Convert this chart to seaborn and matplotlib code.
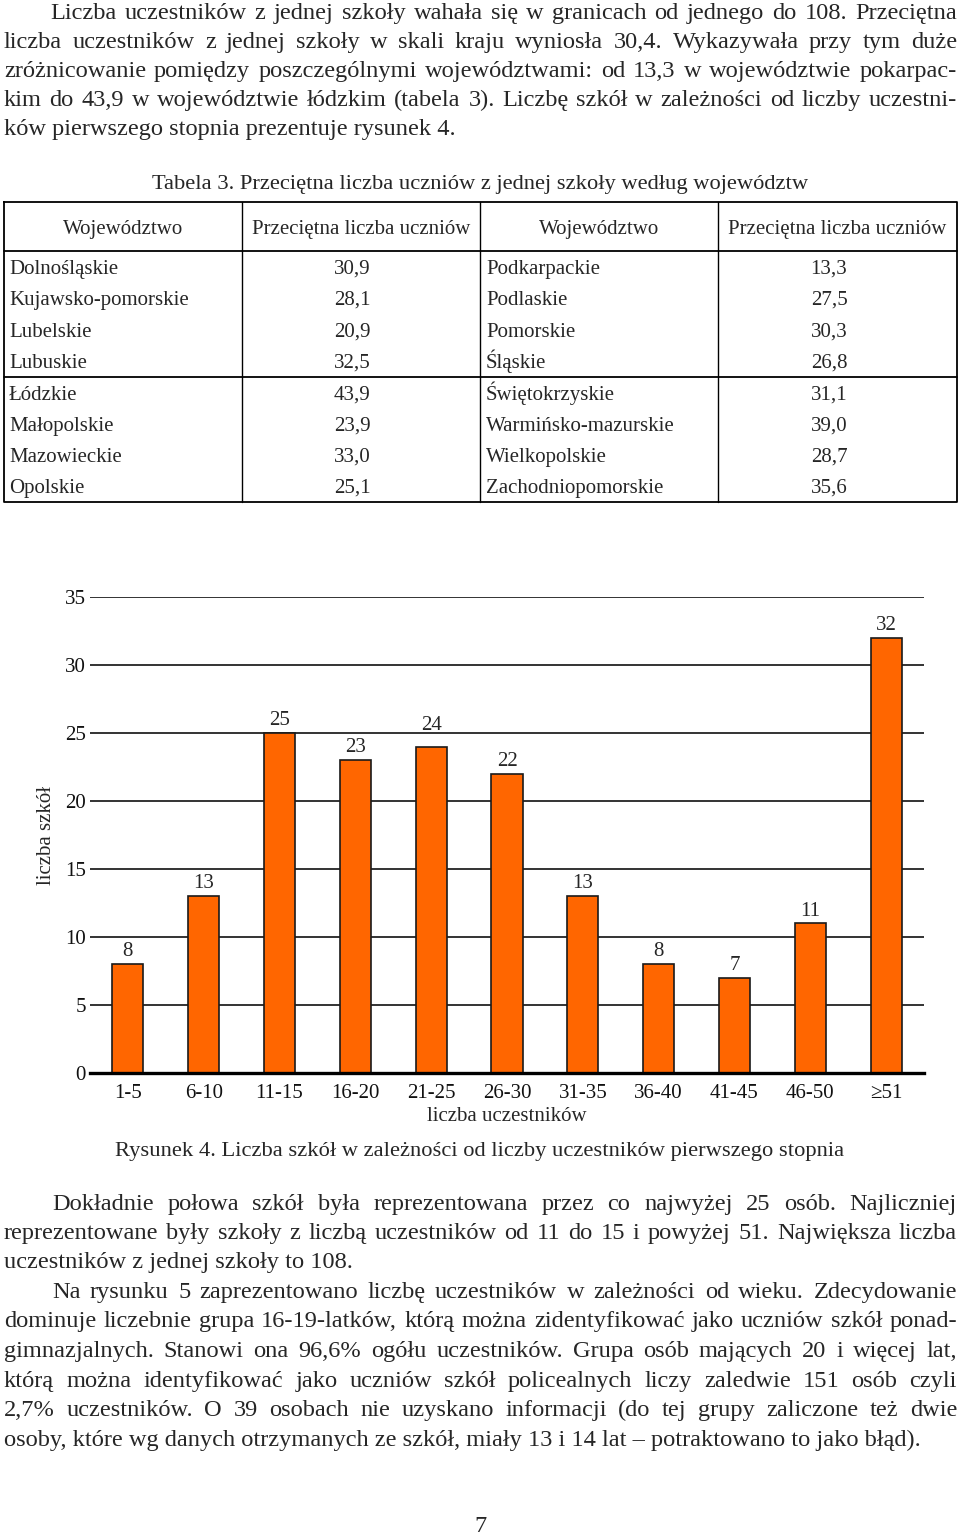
import matplotlib
matplotlib.use("Agg")
import matplotlib.pyplot as plt
import seaborn as sns
import pandas as pd

# Rysunek 4 - liczba szkol wg liczby uczestnikow
przedzialy = ["1-5", "6-10", "11-15", "16-20", "21-25", "26-30",
              "31-35", "36-40", "41-45", "46-50", "≥51"]
liczba_szkol = [8, 13, 25, 23, 24, 22, 13, 8, 7, 11, 32]

# Tabela 3
naglowki = ["Województwo", "Przeciętna liczba uczniów", "Województwo", "Przeciętna liczba uczniów"]
woj_lewe = ["Dolnośląskie", "Kujawsko-pomorskie", "Lubelskie", "Lubuskie",
            "Łódzkie", "Małopolskie", "Mazowieckie", "Opolskie"]
sr_lewe = ["30,9", "28,1", "20,9", "32,5", "43,9", "23,9", "33,0", "25,1"]
woj_prawe = ["Podkarpackie", "Podlaskie", "Pomorskie", "Śląskie",
             "Świętokrzyskie", "Warmińsko-mazurskie", "Wielkopolskie", "Zachodniopomorskie"]
sr_prawe = ["13,3", "27,5", "30,3", "26,8", "31,1", "39,0", "28,7", "35,6"]

akapit1 = [
    "Liczba uczestników z jednej szkoły wahała się w granicach od jednego do 108. Przeciętna",
    "liczba uczestników z jednej szkoły w skali kraju wyniosła 30,4. Wykazywała przy tym duże",
    "zróżnicowanie pomiędzy poszczególnymi województwami: od 13,3 w województwie pokarpac-",
    "kim do 43,9 w województwie łódzkim (tabela 3). Liczbę szkół w zależności od liczby uczestni-",
    "ków pierwszego stopnia prezentuje rysunek 4.",
]
akapit2 = [
    "Dokładnie połowa szkół była reprezentowana przez co najwyżej 25 osób. Najliczniej",
    "reprezentowane były szkoły z liczbą uczestników od 11 do 15 i powyżej 51. Największa liczba",
    "uczestników z jednej szkoły to 108.",
    "Na rysunku 5 zaprezentowano liczbę uczestników w zależności od wieku. Zdecydowanie",
    "dominuje liczebnie grupa 16-19-latków, którą można zidentyfikować jako uczniów szkół ponad-",
    "gimnazjalnych. Stanowi ona 96,6% ogółu uczestników. Grupa osób mających 20 i więcej lat,",
    "którą można identyfikować jako uczniów szkół policealnych liczy zaledwie 151 osób czyli",
    "2,7% uczestników. O 39 osobach nie uzyskano informacji (do tej grupy zaliczone też dwie",
    "osoby, które wg danych otrzymanych ze szkół, miały 13 i 14 lat – potraktowano to jako błąd).",
]

sns.set_style("white")
plt.rcParams['font.family'] = ['Liberation Serif', 'DejaVu Serif']

fig = plt.figure(figsize=(9.6, 15.37), dpi=100)
page = fig.add_axes([0, 0, 1, 1])
page.set_xlim(0, 960)
page.set_ylim(1537, 0)
page.axis("off")
renderer = fig.canvas.get_renderer()

BODY = 17.6
TAB = 15
CAP = 16.2
WYK = 15


def linia(tekst, y, x0=4, x1=957, justuj=True, size=BODY):
    if not justuj:
        page.text(x0, y, tekst, fontsize=size, va="baseline", ha="left")
        return
    slowa = tekst.split(" ")
    obj = [page.text(0, y, s, fontsize=size, va="baseline", ha="left") for s in slowa]
    szer = [o.get_window_extent(renderer).width for o in obj]
    gap = (x1 - x0 - sum(szer)) / (len(slowa) - 1)
    x = x0
    for o, w in zip(obj, szer):
        o.set_x(x)
        x += w + gap


# akapit nad tabela
y1 = [19, 48, 77, 106, 135]
for i, (t, y) in enumerate(zip(akapit1, y1)):
    linia(t, y, x0=50 if i == 0 else 4, justuj=(i < 4))

# tabela
page.text(480, 189, "Tabela 3. Przeciętna liczba uczniów z jednej szkoły według województw",
          fontsize=CAP, ha="center", va="baseline")
L, R, T, B = 4, 957, 202, 502
kol = [4, 242, 480, 718, 957]
page.plot([L, R, R, L, L], [T, T, B, B, T], color="black", lw=1.3)
for x in kol[1:-1]:
    page.plot([x, x], [T, B], color="black", lw=1.0)
page.plot([L, R], [251, 251], color="black", lw=1.3)
page.plot([L, R], [377, 377], color="black", lw=1.3)
for j, h in enumerate(naglowki):
    page.text((kol[j] + kol[j + 1]) / 2, 234, h, fontsize=TAB, ha="center", va="baseline")
wiersze_y = [274, 305, 337, 368, 400, 431, 462, 493]
for y, w1, s1, w2, s2 in zip(wiersze_y, woj_lewe, sr_lewe, woj_prawe, sr_prawe):
    page.text(9, y, w1, fontsize=TAB, ha="left", va="baseline")
    page.text(352, y, s1, fontsize=TAB, ha="center", va="baseline")
    page.text(486, y, w2, fontsize=TAB, ha="left", va="baseline")
    page.text(829, y, s2, fontsize=TAB, ha="center", va="baseline")

# wykres
ax = fig.add_axes([90 / 960, 464 / 1537, 834 / 960, 476 / 1537])
df = pd.DataFrame({"przedzial": przedzialy, "liczba": liczba_szkol})
sns.barplot(data=df, x="przedzial", y="liczba", color="#ff6600", saturation=1,
            width=0.41, edgecolor="#1a1a1a", linewidth=1.2, ax=ax)
ax.set_ylim(0, 35)
ax.set_xlim(-0.5, 10.5)
ax.set_yticks(range(0, 36, 5))
ax.yaxis.grid(True, color="#333333", lw=1.4)
ax.set_axisbelow(True)
for s in ["top", "right", "left"]:
    ax.spines[s].set_visible(False)
ax.spines["bottom"].set_linewidth(2.4)
ax.spines["bottom"].set_color("black")
ax.tick_params(axis="both", length=0, labelsize=WYK, colors="#111111")
ax.tick_params(axis="y", pad=3)
ax.tick_params(axis="x", pad=8)
ax.set_xlabel("liczba uczestników", fontsize=WYK, labelpad=3)
ax.set_ylabel("liczba szkół", fontsize=WYK, labelpad=6)

# etykiety wartosci; "24" podniesione nad linie siatki jak w oryginale
for i, p in enumerate(ax.patches):
    dy = 8 if liczba_szkol[i] == 24 else 2
    ax.annotate(str(liczba_szkol[i]), (p.get_x() + p.get_width() / 2, p.get_height()),
                xytext=(0, dy), textcoords="offset points",
                ha="center", va="bottom", fontsize=WYK)

page.text(480, 1156, "Rysunek 4. Liczba szkół w zależności od liczby uczestników pierwszego stopnia",
          fontsize=CAP, ha="center", va="baseline")

# akapit pod wykresem
y2 = [1210, 1239, 1268, 1298, 1327, 1357, 1387, 1416, 1446]
for i, (t, y) in enumerate(zip(akapit2, y2)):
    wciecie = i in (0, 3)
    linia(t, y, x0=52 if wciecie else 4, justuj=(i not in (2, 8)))

page.text(480, 1532, "7", fontsize=BODY, ha="center", va="baseline")

fig.savefig("out.png", dpi=100)
